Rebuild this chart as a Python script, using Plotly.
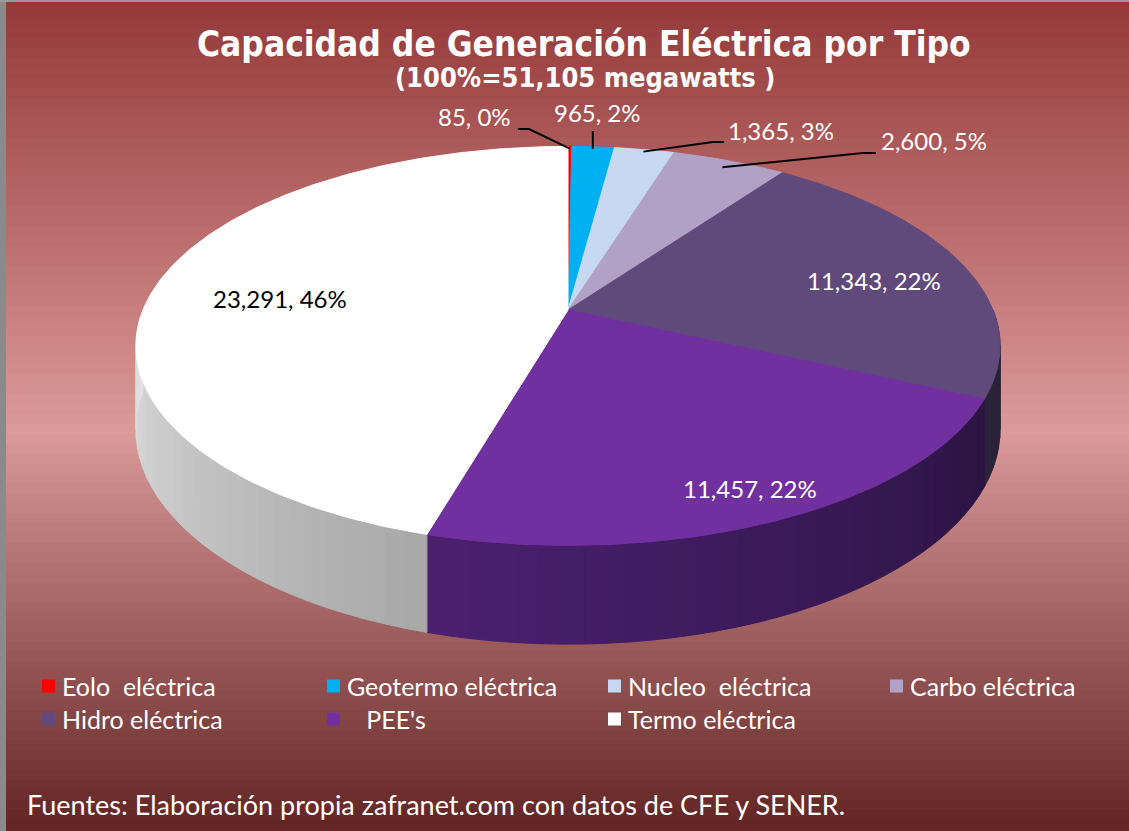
import math
import plotly.graph_objects as go

# ---------------- data ----------------
categories = ["Eolo\u00a0 eléctrica", "Geotermo eléctrica", "Nucleo\u00a0 eléctrica", "Carbo eléctrica",
              "Hidro eléctrica", "\u00a0\u00a0\u00a0PEE's", "Termo eléctrica"]
values = [85, 965, 1365, 2600, 11343, 11457, 23291]
title_text = "Capacidad de Generación Eléctrica por Tipo"
subtitle_text = "(100%=51,105 megawatts )"
footer_text = "Fuentes: Elaboración propia zafranet.com con datos de CFE y SENER."

# ---------------- style ----------------
colors = ["#ff0000", "#00b0f0", "#c6d9f1", "#b2a1c7", "#604a7b", "#7030a0", "#ffffff"]
wall_colors = {4: ("#2a2238", "#2a2238"), 5: ("#2b1442", "#4b2070"), 6: ("#a8a8a8", "#e2e2e2")}
label_font_colors = ["white", "white", "white", "white", "white", "white", "black"]
W, H = 1129, 831
cx, cy0, A, B, k, D = 568, 310, 425, 193, 0.18, 81

total = sum(values)


def proj(theta, r=1.0, dz=0.0):
    t = math.radians(theta)
    X = r * math.sin(t)
    Y = r * math.cos(t)
    d = 1 + k * Y
    return cx + A * X / d, cy0 - B * Y / d + dz / d


def hex2rgb(h):
    h = h.lstrip("#")
    return [int(h[i:i + 2], 16) for i in (0, 2, 4)]


def mix(c1, c2, t):
    a, b = hex2rgb(c1), hex2rgb(c2)
    return "rgb(%d,%d,%d)" % tuple(round(a[i] + (b[i] - a[i]) * t) for i in range(3))


angles = []
s = 0.0
for v in values:
    e = s + v / total * 360.0
    angles.append((s, e))
    s = e

fig = go.Figure()

# side walls (front half only)
for i, (a0, a1) in enumerate(angles):
    lo, hi = max(a0, 90.0), min(a1, 270.0)
    if hi <= lo:
        continue
    n = max(2, int((hi - lo) / 2.5))
    c_start, c_end = wall_colors[i]
    for j in range(n):
        t0 = lo + (hi - lo) * j / n
        t1 = lo + (hi - lo) * (j + 1) / n
        p = [proj(t0), proj(t1), proj(t1, dz=D), proj(t0, dz=D)]
        col = mix(c_start, c_end, (j + 0.5) / n)
        fig.add_trace(go.Scatter(x=[q[0] for q in p] + [p[0][0]], y=[q[1] for q in p] + [p[0][1]],
                                 mode="lines", fill="toself", fillcolor=col,
                                 line=dict(color=col, width=1), hoverinfo="skip", showlegend=False))

# top faces
for i, (a0, a1) in enumerate(angles):
    n = max(2, int((a1 - a0) / 0.8))
    pts = [(cx, cy0)] + [proj(a0 + (a1 - a0) * j / n) for j in range(n + 1)] + [(cx, cy0)]
    fig.add_trace(go.Scatter(x=[p[0] for p in pts], y=[p[1] for p in pts], mode="lines",
                             fill="toself", fillcolor=colors[i],
                             line=dict(color=colors[i], width=1.5 if i == 0 else 1),
                             name=categories[i], hoverinfo="skip", showlegend=False))

# data labels
labels = ["{:,}, {:d}%".format(v, round(v / total * 100)) for v in values]
label_pos = [(513, 116, "right"), (597, 112, "center"), (726, 130, "left"), (879, 140, "left"),
             (874, 280, "center"), (750, 488, "center"), (280, 298, "center")]
leaders = {0: ((529, 129), (518, 129)), 1: None, 2: ((713, 142), (724, 142)), 3: ((863, 153), (876, 153))}
for i in range(4):
    a0, a1 = angles[i]
    rim = proj((a0 + a1) / 2, r=0.985 if i < 3 else 0.95)
    if leaders[i] is None:
        xs, ys = [rim[0], rim[0]], [rim[1], 131]
    else:
        (ex, ey), (lx, ly) = leaders[i]
        xs, ys = [rim[0], ex, lx], [rim[1], ey, ly]
    fig.add_trace(go.Scatter(x=xs, y=ys, mode="lines", line=dict(color="black", width=2),
                             hoverinfo="skip", showlegend=False))

annotations = []
for i, lab in enumerate(labels):
    x, y, al = label_pos[i]
    annotations.append(dict(x=x, y=y, xref="x", yref="y", text=lab, showarrow=False,
                            xanchor=al, yanchor="middle",
                            font=dict(family="Lato", size=24, color=label_font_colors[i])))

# title
annotations.append(dict(x=584 / W, y=1 - 44 / H, xref="paper", yref="paper", text="<b>%s</b>" % title_text,
                        showarrow=False, xanchor="center", yanchor="middle",
                        font=dict(family="DejaVu Sans Condensed", size=35, color="white")))
annotations.append(dict(x=585 / W, y=1 - 77 / H, xref="paper", yref="paper", text="<b>%s</b>" % subtitle_text,
                        showarrow=False, xanchor="center", yanchor="middle",
                        font=dict(family="DejaVu Sans Condensed", size=27, color="white")))
# footer
annotations.append(dict(x=25 / W, y=1 - 804 / H, xref="paper", yref="paper", text=footer_text,
                        showarrow=False, xanchor="left", yanchor="middle",
                        font=dict(family="Lato", size=27, color="white")))

shapes = []
# background gradient
stops = [(0.0, "#943838"), (0.52, "#dc9a9a"), (1.0, "#622424")]
nb = 84
for b in range(nb):
    y0 = b / nb
    y1 = (b + 1) / nb
    ym = (y0 + y1) / 2
    for (p0, c0), (p1, c1) in zip(stops[:-1], stops[1:]):
        if p0 <= ym <= p1:
            col = mix(c0, c1, (ym - p0) / (p1 - p0))
    shapes.append(dict(type="rect", xref="paper", yref="paper", x0=0, x1=1, y0=1 - y1, y1=1 - y0 + 0.002,
                       fillcolor=col, line=dict(width=0), layer="below"))
shapes.append(dict(type="rect", xref="paper", yref="paper", x0=0, x1=6 / W, y0=0, y1=1,
                   fillcolor="#8a8a8a", line=dict(width=0), layer="below"))
shapes.append(dict(type="rect", xref="paper", yref="paper", x0=0, x1=1, y0=1 - 2 / H, y1=1,
                   fillcolor="#9a9a9a", line=dict(width=0), layer="below"))

# legend (manual grid)
col_x = [42, 327, 608, 890]
row_y = [686, 719]
for i, name in enumerate(categories):
    r, c = divmod(i, 4)
    x0, yc = col_x[c], row_y[r]
    shapes.append(dict(type="rect", xref="x", yref="y", x0=x0, x1=x0 + 13, y0=yc - 6.5, y1=yc + 6.5,
                       fillcolor=colors[i], line=dict(width=0)))
    annotations.append(dict(x=x0 + 18, y=yc, xref="x", yref="y", text=name, showarrow=False,
                            xanchor="left", yanchor="middle",
                            font=dict(family="Lato", size=25, color="white")))

fig.update_layout(
    width=W, height=H, margin=dict(l=0, r=0, t=0, b=0),
    paper_bgcolor="#b06060", plot_bgcolor="rgba(0,0,0,0)",
    xaxis=dict(range=[0, W], visible=False, fixedrange=True),
    yaxis=dict(range=[H, 0], visible=False, fixedrange=True),
    showlegend=False, shapes=shapes, annotations=annotations,
)
fig.write_html("out.html", config={"displayModeBar": False},
               post_script="document.body.style.margin='0px';document.body.style.overflow='hidden';")
